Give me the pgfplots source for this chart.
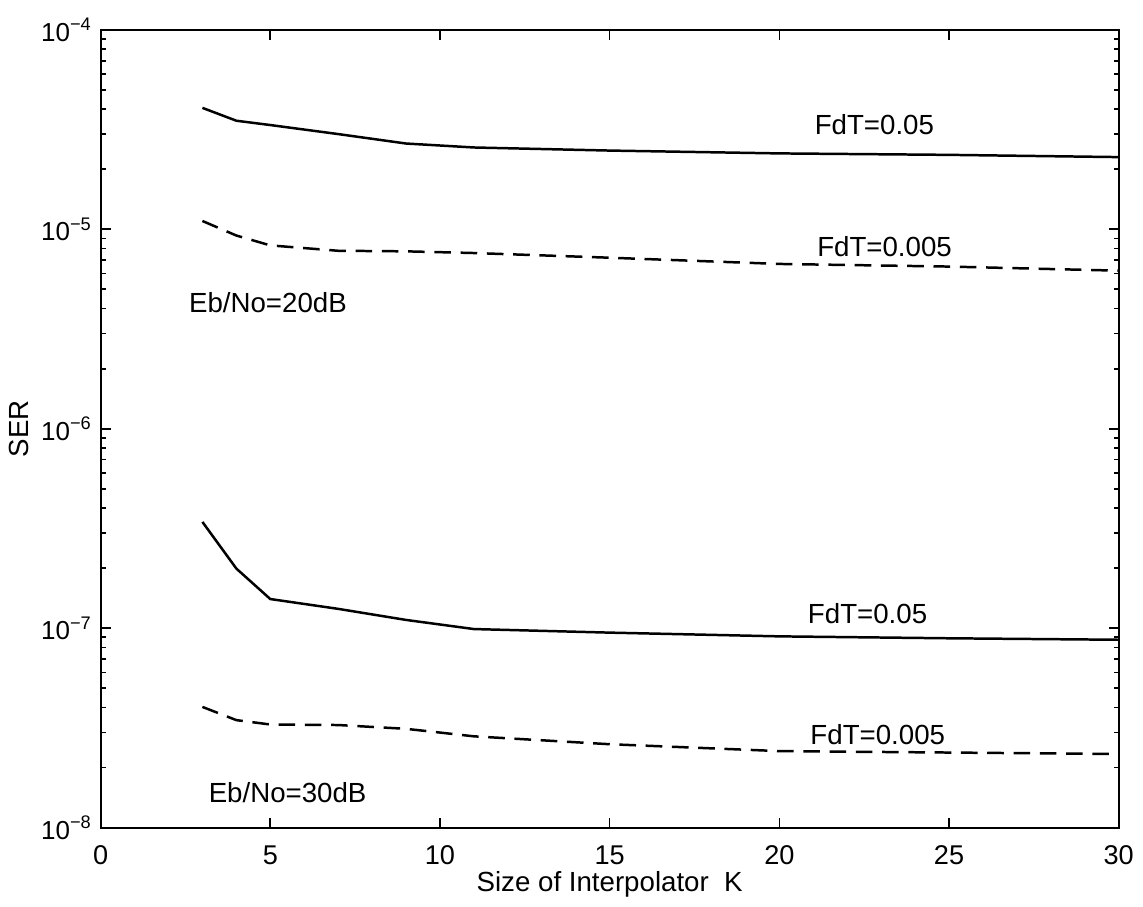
\documentclass[border=0pt]{standalone}
\usepackage{fontspec}
\setmainfont{Liberation Sans}
\usepackage{pgfplots}
\pgfplotsset{compat=1.18}
\begin{document}
\begin{tikzpicture}
\begin{axis}[
  scale only axis,
  width=368pt, height=288.4pt,
  ymode=log,
  xmin=0, xmax=30, ymin=1e-8, ymax=1e-4,
  xtick={0,5,10,15,20,25,30},
  ytick={1e-8,1e-7,1e-6,1e-5,1e-4},
  yticklabels={10\textsuperscript{−8},10\textsuperscript{−7},10\textsuperscript{−6},10\textsuperscript{−5},10\textsuperscript{−4}},
  /pgf/number format/assume math mode=true,
  tick align=inside,
  major tick length=3.6pt,
  minor tick length=1.8pt,
  axis line style={line width=0.8pt},
  every tick/.style={line width=0.6pt, black},
  tick label style={font=\fontsize{9.8}{11}\selectfont},
  yticklabel style={font=\fontsize{9.4}{11}\selectfont, xshift=0.5pt},
  xticklabel style={yshift=-3pt},
  xlabel={Size of Interpolator\ \ K},
  ylabel={SER},
  label style={font=\fontsize{10}{12}\selectfont},
  xlabel style={at={(axis description cs:0.5,0)}, anchor=center, yshift=-20.5pt},
  ylabel style={at={(axis description cs:0,0.5)}, anchor=center, yshift=29.5pt},
]
\addplot[black, no marks, line width=0.9pt] coordinates {(3,4.06e-5) (4,3.5e-5) (5,3.33e-5) (7,3.0e-5) (9,2.69e-5) (11,2.57e-5) (15,2.48e-5) (20,2.4e-5) (25,2.36e-5) (30,2.3e-5)};
\addplot[black, no marks, line width=0.9pt, dash pattern=on 6pt off 3.5pt] coordinates {(3,1.10e-5) (4,9.3e-6) (5,8.3e-6) (7,7.8e-6) (9,7.75e-6) (11,7.6e-6) (15,7.2e-6) (20,6.7e-6) (25,6.5e-6) (30,6.2e-6)};
\addplot[black, no marks, line width=0.9pt] coordinates {(3,3.41e-7) (4,1.99e-7) (5,1.40e-7) (7,1.25e-7) (9,1.1e-7) (11,9.9e-8) (15,9.5e-8) (20,9.1e-8) (25,8.9e-8) (30,8.75e-8)};
\addplot[black, no marks, line width=0.9pt, dash pattern=on 6pt off 3.5pt] coordinates {(3,4.03e-8) (4,3.46e-8) (5,3.29e-8) (7,3.27e-8) (9,3.13e-8) (11,2.87e-8) (15,2.62e-8) (20,2.42e-8) (25,2.38e-8) (30,2.34e-8)};
\node[font=\fontsize{10}{12}\selectfont] at (axis cs:22.8,3.35e-5) {FdT=0.05};
\node[font=\fontsize{10}{12}\selectfont] at (axis cs:23.1,8.2e-6) {FdT=0.005};
\node[font=\fontsize{10}{12}\selectfont] at (axis cs:22.6,1.19e-7) {FdT=0.05};
\node[font=\fontsize{10}{12}\selectfont] at (axis cs:22.9,2.92e-8) {FdT=0.005};
\node[font=\fontsize{10}{12}\selectfont] at (axis cs:4.93,4.3e-6) {Eb/No=20dB};
\node[font=\fontsize{10}{12}\selectfont] at (axis cs:5.51,1.5e-8) {Eb/No=30dB};
\end{axis}
\path (current axis.south west) ++(-36pt,-26.64pt) rectangle ++(411.5pt,325.8pt);
\end{tikzpicture}
\end{document}
